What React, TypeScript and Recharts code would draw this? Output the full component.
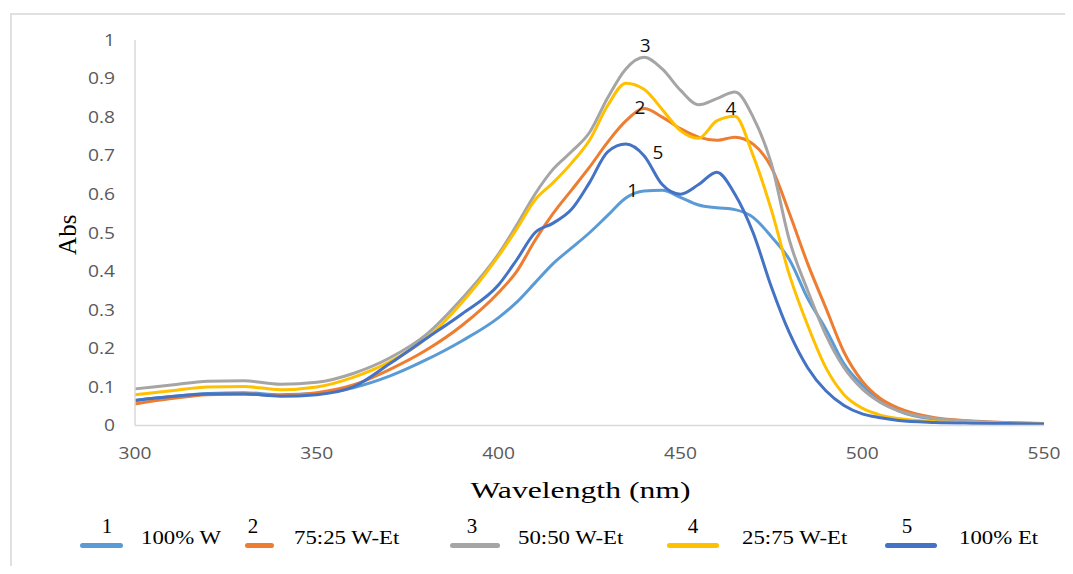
import {
  LineChart,
  Line,
  XAxis,
  YAxis,
  Legend,
  Label,
  ReferenceDot,
} from "recharts";

// wavelength (nm)
const wavelengths = [
  300, 310, 320, 330, 340, 350, 360, 370, 380, 390, 400, 405, 410, 415, 420,
  425, 430, 435, 440, 445, 450, 455, 460, 465, 470, 475, 480, 485, 490, 495,
  500, 505, 510, 520, 530, 540, 550,
];

// Abs per solvent mixture
const water100 = [
  0.065, 0.075, 0.083, 0.085, 0.08, 0.083, 0.098, 0.128, 0.17, 0.22, 0.28,
  0.32, 0.37, 0.42, 0.46, 0.5, 0.545, 0.59, 0.608, 0.61, 0.592, 0.572, 0.565,
  0.56, 0.54, 0.49, 0.43, 0.33, 0.25, 0.16, 0.105, 0.065, 0.038, 0.016, 0.009,
  0.006, 0.004,
];
const w75et25 = [
  0.056, 0.07, 0.08, 0.082, 0.078, 0.085, 0.105, 0.145, 0.195, 0.26, 0.345,
  0.4, 0.48, 0.55, 0.61, 0.67, 0.735, 0.79, 0.822, 0.8, 0.77, 0.748, 0.74,
  0.748, 0.73, 0.67, 0.55, 0.42, 0.305, 0.19, 0.115, 0.07, 0.045, 0.02, 0.012,
  0.008, 0.005,
];
const w50et50 = [
  0.095, 0.105, 0.115, 0.116, 0.107, 0.112, 0.135, 0.175, 0.235, 0.33, 0.445,
  0.52, 0.6, 0.665, 0.71, 0.76, 0.85, 0.925, 0.955, 0.925, 0.87, 0.832, 0.848,
  0.865, 0.8, 0.68, 0.48, 0.35, 0.235, 0.15, 0.095, 0.06, 0.038, 0.018, 0.011,
  0.007, 0.005,
];
const w25et75 = [
  0.08, 0.09, 0.1, 0.101, 0.093, 0.1, 0.125, 0.165, 0.225, 0.32, 0.44, 0.51,
  0.585, 0.63, 0.68, 0.74, 0.83, 0.888, 0.872, 0.82, 0.765, 0.745, 0.79, 0.802,
  0.7, 0.56, 0.39, 0.26, 0.15, 0.08, 0.045, 0.027, 0.018, 0.01, 0.007, 0.005,
  0.004,
];
const ethanol100 = [
  0.065, 0.075, 0.082, 0.082, 0.076, 0.08, 0.1, 0.16, 0.225, 0.29, 0.365,
  0.43, 0.5, 0.525, 0.56, 0.63, 0.71, 0.73, 0.7, 0.625, 0.6, 0.625, 0.657,
  0.6, 0.5, 0.36, 0.24, 0.15, 0.09, 0.052, 0.03, 0.02, 0.013, 0.008, 0.006,
  0.005, 0.004,
];

const seriesKeys = ["s1", "s2", "s3", "s4", "s5"];
const seriesNumbers = ["1", "2", "3", "4", "5"];
const seriesNames = ["100% W", "75:25 W-Et", "50:50 W-Et", "25:75 W-Et", "100% Et"];
const seriesColors = ["#5B9BD5", "#ED7D31", "#A5A5A5", "#FFC000", "#4472C4"];

const yTicks = [0, 0.1, 0.2, 0.3, 0.4, 0.5, 0.6, 0.7, 0.8, 0.9, 1];
const xTicks = [300, 350, 400, 450, 500, 550];

// curve number labels placed in data units (nm, Abs)
const markerNumbers = ["3", "2", "4", "5", "1"];
const markerX = [440.3, 438.9, 463.9, 443.8, 436.9];
const markerY = [0.987, 0.826, 0.824, 0.709, 0.61];

const seriesValues = [water100, w75et25, w50et50, w25et75, ethanol100];

const data = wavelengths.map((w, i) => {
  const row: Record<string, number> = { wl: w };
  seriesKeys.forEach((k, j) => {
    row[k] = seriesValues[j][i];
  });
  return row;
});

// legend layout (chart px)
const legendSwatch = [
  { x: 72, w: 43, num: 99, text: 133 },
  { x: 237, w: 29, num: 245, text: 286 },
  { x: 442, w: 50, num: 464, text: 510 },
  { x: 659, w: 52, num: 685, text: 734 },
  { x: 877, w: 52, num: 899, text: 951 },
];

const serif = "'Liberation Serif', 'Times New Roman', serif";
const sans = "'Open Sans', 'Noto Sans', sans-serif";
const stretch = 1.2; // the source figure is a bit wide

const fmtY = (v: number) => (v === 0 || v === 1 ? String(v) : v.toFixed(1));

const YTick = ({ x, y, payload }: any) => (
  <text
    transform={`translate(${x},${y}) scale(${stretch},1)`}
    textAnchor="end"
    dy="0.36em"
    fontFamily={sans}
    fontSize={16}
    fill="#595959"
  >
    {fmtY(payload.value)}
  </text>
);

const XTick = ({ x, y, payload }: any) => (
  <text
    transform={`translate(${x},${y}) scale(${stretch},1)`}
    textAnchor="middle"
    dy="0.71em"
    fontFamily={sans}
    fontSize={16}
    fill="#595959"
  >
    {payload.value}
  </text>
);

const XTitle = ({ viewBox }: any) => (
  <text
    x={viewBox.x + viewBox.width / 2 - 9}
    y={490}
    textAnchor="middle"
    fontFamily={serif}
    fontSize={24}
    fill="#000"
    textLength={220}
    lengthAdjust="spacingAndGlyphs"
  >
    Wavelength (nm)
  </text>
);

const YTitle = ({ viewBox }: any) => {
  const cx = 60;
  const cy = viewBox.y + viewBox.height / 2 + 2;
  return (
    <text
      transform={`translate(${cx},${cy}) rotate(-90)`}
      textAnchor="middle"
      dy="0.33em"
      fontFamily={serif}
      fontSize={25}
      fill="#000"
    >
      Abs
    </text>
  );
};

const LegendContent = () => (
  <div style={{ position: "relative", width: 1057, height: 50 }}>
    {seriesKeys.map((k, i) => {
      const l = legendSwatch[i];
      return (
        <div key={k}>
          <div
            style={{
              position: "absolute",
              left: l.num - 10,
              width: 20,
              top: 2,
              textAlign: "center",
              fontFamily: serif,
              fontSize: 21,
              color: "#000",
              lineHeight: "22px",
            }}
          >
            {seriesNumbers[i]}
          </div>
          <div
            style={{
              position: "absolute",
              left: l.x,
              width: l.w,
              top: 30,
              height: 5,
              borderRadius: 3,
              background: seriesColors[i],
            }}
          />
          <div
            style={{
              position: "absolute",
              left: l.text,
              top: 14,
              fontFamily: serif,
              fontSize: 19,
              color: "#000",
              whiteSpace: "nowrap",
              lineHeight: "22px",
              transform: `scaleX(${stretch})`,
              transformOrigin: "left center",
            }}
          >
            {seriesNames[i]}
          </div>
        </div>
      );
    })}
  </div>
);

export default function App() {
  return (
    <div style={{ position: "relative", width: 1057, height: 558 }}>
      <div
        style={{
          position: "absolute",
          left: 2,
          top: 5,
          right: -20,
          bottom: -20,
          borderLeft: "2px solid #e0e0e0",
          borderTop: "2px solid #e0e0e0",
        }}
      />
      <LineChart
        width={1057}
        height={558}
        data={data}
        margin={{ top: 32, right: 21, left: 0, bottom: 110.5 }}
        style={{ position: "absolute", left: 0, top: 0 }}
      >
        <XAxis
          dataKey="wl"
          type="number"
          domain={[300, 550]}
          ticks={xTicks}
          tickLine={false}
          tickSize={6}
          tickMargin={16}
          axisLine={{ stroke: "#d9d9d9", strokeWidth: 1.5 }}
          tick={<XTick />}
          height={30}
        >
          <Label content={<XTitle />} />
        </XAxis>
        <YAxis
          type="number"
          domain={[0, 1]}
          ticks={yTicks}
          width={127}
          tickLine={false}
          tickSize={6}
          tickMargin={14}
          axisLine={{ stroke: "#d9d9d9", strokeWidth: 1.5 }}
          tick={<YTick />}
        >
          <Label content={<YTitle />} />
        </YAxis>
        {seriesKeys.map((k, i) => (
          <Line
            key={k}
            type="monotone"
            dataKey={k}
            name={seriesNames[i]}
            stroke={seriesColors[i]}
            strokeWidth={3}
            dot={false}
            activeDot={false}
            isAnimationActive={false}
          />
        ))}
        {markerNumbers.map((n, i) => (
          <ReferenceDot
            key={n}
            x={markerX[i]}
            y={markerY[i]}
            r={0}
            ifOverflow="visible"
            shape={(p: any) => (
              <text
                x={p.cx}
                y={p.cy}
                textAnchor="middle"
                dominantBaseline="central"
                fontFamily={sans}
                fontSize={19}
                fill="#111"
              >
                {n}
              </text>
            )}
          />
        ))}
        <Legend
          layout="vertical"
          align="center"
          verticalAlign="middle"
          wrapperStyle={{ top: 505, left: 0, width: 1057, height: 50 }}
          content={<LegendContent />}
        />
      </LineChart>
    </div>
  );
}
